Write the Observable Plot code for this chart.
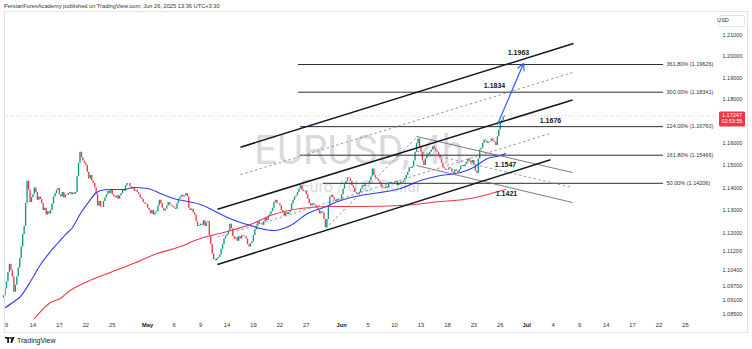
<!DOCTYPE html>
<html><head><meta charset="utf-8">
<script src="https://cdn.jsdelivr.net/npm/d3@7"></script>
<script src="https://cdn.jsdelivr.net/npm/@observablehq/plot@0.6"></script>
<style>
html,body{margin:0;padding:0;background:#fff;width:752px;height:349px;overflow:hidden;font-family:"Liberation Sans",Arial,sans-serif;}
#hdr{position:absolute;left:4px;top:3px;font-size:5.7px;color:#333;white-space:nowrap;line-height:7px;}
#chart{position:absolute;left:0;top:11px;}
#border{position:absolute;left:4px;top:11px;width:742px;height:320px;border:1px solid #e0e3eb;pointer-events:none;}
#ftr{position:absolute;left:5px;top:336px;height:9px;display:flex;align-items:center;gap:2px;font-size:7px;color:#131722;}
</style></head>
<body>
<div id="hdr">PersianForexAcademy published on TradingView.com, Jun 26, 2025 13:36 UTC+3:30</div>
<div id="chart"></div>
<div id="border"></div>
<div id="ftr"><svg width="10" height="7" viewBox="0 0 10 7"><rect x="0" y="0" width="4" height="1.6" fill="#131722"/><rect x="2.2" y="0" width="1.8" height="6" fill="#131722"/><circle cx="5.2" cy="1" r="0.9" fill="#131722"/><path d="M6.6 0 L9.6 0 L7.2 6 L5.4 6 Z" fill="#131722"/></svg><span>TradingView</span></div>
<script>
// ---- data (trading-day index: 0 = Apr 9, 2025; bars every 4h = 1/6 day) ----
const lastPrice = 1.17247;
const countdown = "02:53:55";
const firstOpen = 1.0920;
const candleDays = [-1,0,1,2,3,4,5,6,7,8,9,10,11,12,13,14,15,16,17,18,19,20,21,22,23,24,25,26,27,28,29,30,31,32,33,34,35,36,37,38,39,40,41,42,43,44,45,46,47,48,49,50,51,52,53,54,55,56];
const candleCloses = [
 [null,null,null,null,1.0930,1.0960],            // Apr 8
 [1.0990,1.1030,1.1065,1.1040,1.1010,1.0945],     // Apr 9
 [1.0975,1.1010,1.1050,1.1090,1.1140,1.1195],     // Apr 10
 [1.1230,1.1330,1.1430,1.1390,1.1335,1.1357],     // Apr 11
 [1.1370,1.1400,1.1380,1.1345,1.1360,1.1348],     // Apr 14
 [1.1330,1.1300,1.1310,1.1280,1.1295,1.1285],     // Apr 15
 [1.1300,1.1330,1.1360,1.1375,1.1390,1.1398],     // Apr 16
 [1.1370,1.1360,1.1380,1.1355,1.1370,1.1367],     // Apr 17
 [1.1375,1.1380,1.1370,1.1378,1.1372,1.1380],     // Apr 18
 [1.1450,1.1510,1.1560,1.1535,1.1520,1.1510],     // Apr 21
 [1.1500,1.1470,1.1440,1.1455,1.1430,1.1420],     // Apr 22
 [1.1400,1.1370,1.1320,1.1340,1.1315,1.1314],     // Apr 23
 [1.1340,1.1355,1.1370,1.1385,1.1375,1.1389],     // Apr 24
 [1.1370,1.1360,1.1355,1.1365,1.1350,1.1365],     // Apr 25
 [1.1375,1.1390,1.1385,1.1410,1.1420,1.1420],     // Apr 28
 [1.1405,1.1395,1.1400,1.1385,1.1390,1.1380],     // Apr 29
 [1.1370,1.1355,1.1350,1.1335,1.1330,1.1327],     // Apr 30
 [1.1310,1.1300,1.1285,1.1300,1.1280,1.1290],     // May 1
 [1.1295,1.1320,1.1345,1.1330,1.1310,1.1298],     // May 2
 [1.1305,1.1320,1.1335,1.1325,1.1320,1.1315],     // May 5
 [1.1310,1.1305,1.1330,1.1350,1.1360,1.1367],     // May 6
 [1.1360,1.1365,1.1375,1.1360,1.1310,1.1300],     // May 7
 [1.1305,1.1290,1.1280,1.1250,1.1230,1.1233],     // May 8
 [1.1240,1.1235,1.1255,1.1230,1.1245,1.1250],     // May 9
 [1.1190,1.1150,1.1110,1.1085,1.1080,1.1089],     // May 12
 [1.1095,1.1105,1.1130,1.1150,1.1175,1.1187],     // May 13
 [1.1195,1.1210,1.1240,1.1220,1.1185,1.1175],     // May 14
 [1.1180,1.1165,1.1185,1.1175,1.1190,1.1188],     // May 15
 [1.1185,1.1175,1.1150,1.1140,1.1155,1.1163],     // May 16
 [1.1190,1.1215,1.1230,1.1250,1.1240,1.1241],     // May 19
 [1.1235,1.1250,1.1265,1.1255,1.1275,1.1282],     // May 20
 [1.1295,1.1310,1.1335,1.1345,1.1330,1.1330],     // May 21
 [1.1320,1.1300,1.1290,1.1275,1.1290,1.1282],     // May 22
 [1.1290,1.1300,1.1330,1.1345,1.1360,1.1365],     // May 23
 [1.1380,1.1395,1.1410,1.1390,1.1385,1.1386],     // May 26
 [1.1370,1.1350,1.1330,1.1320,1.1330,1.1325],     // May 27
 [1.1320,1.1310,1.1300,1.1285,1.1295,1.1290],     // May 28
 [1.1260,1.1225,1.1260,1.1320,1.1360,1.1368],     // May 29
 [1.1355,1.1345,1.1340,1.1350,1.1345,1.1347],     // May 30
 [1.1370,1.1395,1.1415,1.1430,1.1445,1.1442],     // Jun 2
 [1.1430,1.1410,1.1400,1.1380,1.1375,1.1370],     // Jun 3
 [1.1380,1.1395,1.1410,1.1405,1.1415,1.1417],     // Jun 4
 [1.1420,1.1430,1.1450,1.1485,1.1455,1.1445],     // Jun 5
 [1.1440,1.1430,1.1420,1.1405,1.1400,1.1396],     // Jun 6
 [1.1405,1.1400,1.1415,1.1425,1.1420,1.1420],     // Jun 9
 [1.1425,1.1430,1.1410,1.1420,1.1425,1.1423],     // Jun 10
 [1.1430,1.1440,1.1455,1.1470,1.1490,1.1487],     // Jun 11
 [1.1495,1.1520,1.1560,1.1600,1.1620,1.1583],     // Jun 12
 [1.1560,1.1520,1.1500,1.1530,1.1545,1.1549],     // Jun 13
 [1.1560,1.1570,1.1585,1.1575,1.1565,1.1560],     // Jun 16
 [1.1545,1.1530,1.1510,1.1490,1.1485,1.1478],     // Jun 17
 [1.1480,1.1490,1.1485,1.1470,1.1465,1.1481],     // Jun 18
 [1.1475,1.1468,1.1480,1.1495,1.1500,1.1495],     // Jun 19
 [1.1505,1.1515,1.1530,1.1520,1.1510,1.1523],     // Jun 20
 [1.1500,1.1475,1.1465,1.1530,1.1570,1.1578],     // Jun 23
 [1.1600,1.1615,1.1610,1.1600,1.1605,1.1609],     // Jun 24
 [1.1620,1.1610,1.1605,1.1590,1.1630,1.1662],     // Jun 25
 [1.1690,1.1705,1.1720,1.17247,null,null]         // Jun 26
];
const blueDays   = [-0.11,1.02,1.59,2.72,3.86,4.99,5.78,6.69,7.49,8.39,9.19,10.09,10.66,11.79,13.27,14.40,15.99,17.46,18.94,20.53,22.0,23.47,25.06,26.54,27.67,28.80,30.28,32.21,34.14,35.95,37.88,40.15,42.41,44.68,46.95,49.22,51.49,52.96,54.55,56.02,56.59];
const bluePrices = [1.08801,1.09099,1.09269,1.09911,1.10643,1.11206,1.11554,1.11946,1.12252,1.12867,1.13309,1.13752,1.13885,1.13930,1.13930,1.14019,1.13974,1.13752,1.13530,1.13397,1.13264,1.13000,1.12691,1.12472,1.12340,1.12208,1.12121,1.12340,1.12867,1.13132,1.13441,1.13663,1.13796,1.13974,1.14330,1.14553,1.14688,1.14912,1.15316,1.15451,1.15541];
const redDays    = [3.18,4.99,6.12,6.92,9.19,11.79,14.40,17.12,19.39,22.0,25.06,27.67,30.28,33.34,36.74,40.15,44.68,49.22,52.62,54.09,56.59];
const redPrices  = [1.08335,1.09014,1.09184,1.09440,1.09911,1.10298,1.10686,1.11119,1.11380,1.11772,1.12078,1.12384,1.12823,1.13088,1.13176,1.13176,1.13220,1.13397,1.13530,1.13663,1.13930];
// drawings: [day1, price1, day2, price2]
const channelLines = [[26.54,1.15826,64.30,1.20611],[23.93,1.13052,64.19,1.17980],[23.93,1.10643,61.69,1.15258]];
const dashedLines  = [[26.54,1.14590,64.19,1.19253],[23.93,1.11837,61.69,1.16457],[46.50,1.15655,64.19,1.14019],[36.18,1.12208,46.61,1.16312]];
const flagLines    = [[46.50,1.16312,64.19,1.14688],[46.50,1.15002,64.19,1.13353]];
const fibPrices = [1.19626,1.18341,1.16760,1.15466,1.14206];
const fibRatios = ["361.80%","300.00%","224.00%","161.80%","50.00%"];
const fibStart  = [33.11,33.11,33.34,33.34,35.95];
const fibEnd = 74.51;
const noteTexts  = ["1.1963","1.1834","1.1676","1.1547","1.1421"];
const noteDays   = [58.06,55.34,61.69,56.59,56.70];
const notePrices = [1.20155,1.18650,1.17040,1.15047,1.13752];
const arrowLine = [55.68,1.16857,58.63,1.19673];
const xTickDays   = [0,3,6,9,12,16,19,22,25,28,31,34,38,41,44,47,50,53,56,59,62,65,68,71,74,77];
const xTickLabels = ["9","14","17","22","25","May","6","9","14","19","22","27","Jun","5","10","13","18","23","26","Jul","4","9","14","17","22","25"];
const monthLabels = ["May","Jun","Jul"];
const yTicks = [1.21,1.20,1.19,1.18,1.16,1.15,1.14,1.13,1.12,1.112,1.104,1.097,1.091,1.085];
const symbolText = "EURUSD, 4h";
const descText = "Euro / U.S. Dollar";

// ---- build tables ----
const bars = [];
let prev = firstOpen;
candleDays.forEach((day, k) => {
  candleCloses[k].forEach((c, i) => {
    if (c == null) return;
    bars.push({d: day + i / 6, open: prev, close: c});
    prev = c;
  });
});
const blueMA = blueDays.map((d, i) => ({d, p: bluePrices[i]}));
const redMA = redDays.map((d, i) => ({d, p: redPrices[i]}));
const seg = a => ({x1: a[0], y1: a[1], x2: a[2], y2: a[3]});
const fibs = fibPrices.map((p, i) => ({p, x1: fibStart[i], x2: fibEnd, label: `${fibRatios[i]} (${p.toFixed(5)})`}));
const notes = noteTexts.map((t, i) => ({t, d: noteDays[i], p: notePrices[i]}));
const ticks = xTickDays.map((d, i) => ({d, label: xTickLabels[i], month: monthLabels.includes(xTickLabels[i])}));
const font = "Liberation Sans, Arial, sans-serif";

const chart = Plot.plot({
  width: 752, height: 321,
  marginLeft: 4, marginRight: 35, marginTop: 1, marginBottom: 12,
  x: {domain: [-0.2268, 80.63], axis: null},
  y: {type: "log", domain: [1.08251, 1.22080], axis: null},
  style: {fontFamily: font, background: "transparent", overflow: "visible"},
  marks: [
    Plot.text([symbolText], {frameAnchor: "middle", dx: -2, dy: -15, text: d => d, fontSize: 40, fontFamily: "Roboto, sans-serif", fill: "#cfd0d4", fillOpacity: 0.8}),
    Plot.text([descText], {frameAnchor: "middle", dx: 0, dy: 20, text: d => d, fontSize: 16, fontFamily: "Roboto, sans-serif", fill: "#cfd0d4", fillOpacity: 0.8}),
    Plot.ruleY([lastPrice], {stroke: "#f23645", strokeOpacity: 0.35, strokeDasharray: "1,2", strokeWidth: 1}),
    Plot.ruleX(bars, {x: "d", y1: "open", y2: "close", stroke: b => b.close >= b.open ? "#089981" : "#f23645", strokeWidth: 1.35}),
    Plot.line(redMA, {x: "d", y: "p", stroke: "#f23645", strokeWidth: 1.1, curve: "monotone-x", clip: true}),
    Plot.line(blueMA, {x: "d", y: "p", stroke: "#2f3cf5", strokeWidth: 1.1, curve: "monotone-x", clip: true}),
    Plot.ruleY(fibs, {y: "p", x1: "x1", x2: "x2", stroke: "#2a2e39", strokeWidth: 1}),
    Plot.text(fibs, {x: "x2", y: "p", text: "label", dx: 3, textAnchor: "start", fontSize: 5.5, fill: "#333"}),
    Plot.link(flagLines.map(seg), {x1: "x1", y1: "y1", x2: "x2", y2: "y2", stroke: "#6a6d78", strokeWidth: 0.9}),
    Plot.link(dashedLines.map(seg), {x1: "x1", y1: "y1", x2: "x2", y2: "y2", stroke: "#8a8d96", strokeWidth: 0.9, strokeDasharray: "2.5,2.5"}),
    Plot.link(channelLines.map(seg), {x1: "x1", y1: "y1", x2: "x2", y2: "y2", stroke: "#131722", strokeWidth: 1.5}),
    Plot.arrow([seg(arrowLine)], {x1: "x1", y1: "y1", x2: "x2", y2: "y2", stroke: "#2962ff", strokeWidth: 1.2, headLength: 9, headAngle: 55}),
    Plot.text(notes, {x: "d", y: "p", text: "t", fontSize: 7, fontWeight: "bold", fill: "#131722"}),
    Plot.axisY(yTicks, {anchor: "right", tickSize: 0, tickPadding: 5, tickFormat: d3.format(".5f"), fontSize: 5.5, fill: "#333", label: null}),
    Plot.text(ticks.filter(t => !t.month), {x: "d", text: "label", frameAnchor: "bottom", dy: 6, fontSize: 5.8, fill: "#333"}),
    Plot.text(ticks.filter(t => t.month), {x: "d", text: "label", frameAnchor: "bottom", dy: 6, fontSize: 5.8, fontWeight: "bold", fill: "#131722"})
  ]
});
document.getElementById("chart").appendChild(chart);

// price label box and currency box in the right price-scale strip
const svg = d3.select(chart);
const yS = chart.scale("y");
const paneRight = 752 - 35;
const yp = yS.apply(lastPrice);
svg.append("rect").attr("x", paneRight + 2).attr("y", yp - 4).attr("width", 26).attr("height", 15).attr("fill", "#f23645").attr("rx", 1.5);
svg.append("text").attr("x", paneRight + 15).attr("y", yp + 0.2).attr("text-anchor", "middle").attr("dominant-baseline", "middle")
  .attr("font-family", font).attr("font-size", 5.6).attr("fill", "#fff").text(lastPrice.toFixed(5));
svg.append("text").attr("x", paneRight + 15).attr("y", yp + 6.6).attr("text-anchor", "middle").attr("dominant-baseline", "middle")
  .attr("font-family", font).attr("font-size", 5.3).attr("fill", "#fff").text(countdown);
svg.append("rect").attr("x", paneRight + 2.5).attr("y", 4.5).attr("width", 25).attr("height", 11).attr("fill", "#fff").attr("stroke", "#e0e3eb").attr("rx", 2);
svg.append("text").attr("x", paneRight + 6).attr("y", 10).attr("dominant-baseline", "middle")
  .attr("font-family", font).attr("font-size", 5.6).attr("fill", "#333").text("USD");
</script>
</body></html>
